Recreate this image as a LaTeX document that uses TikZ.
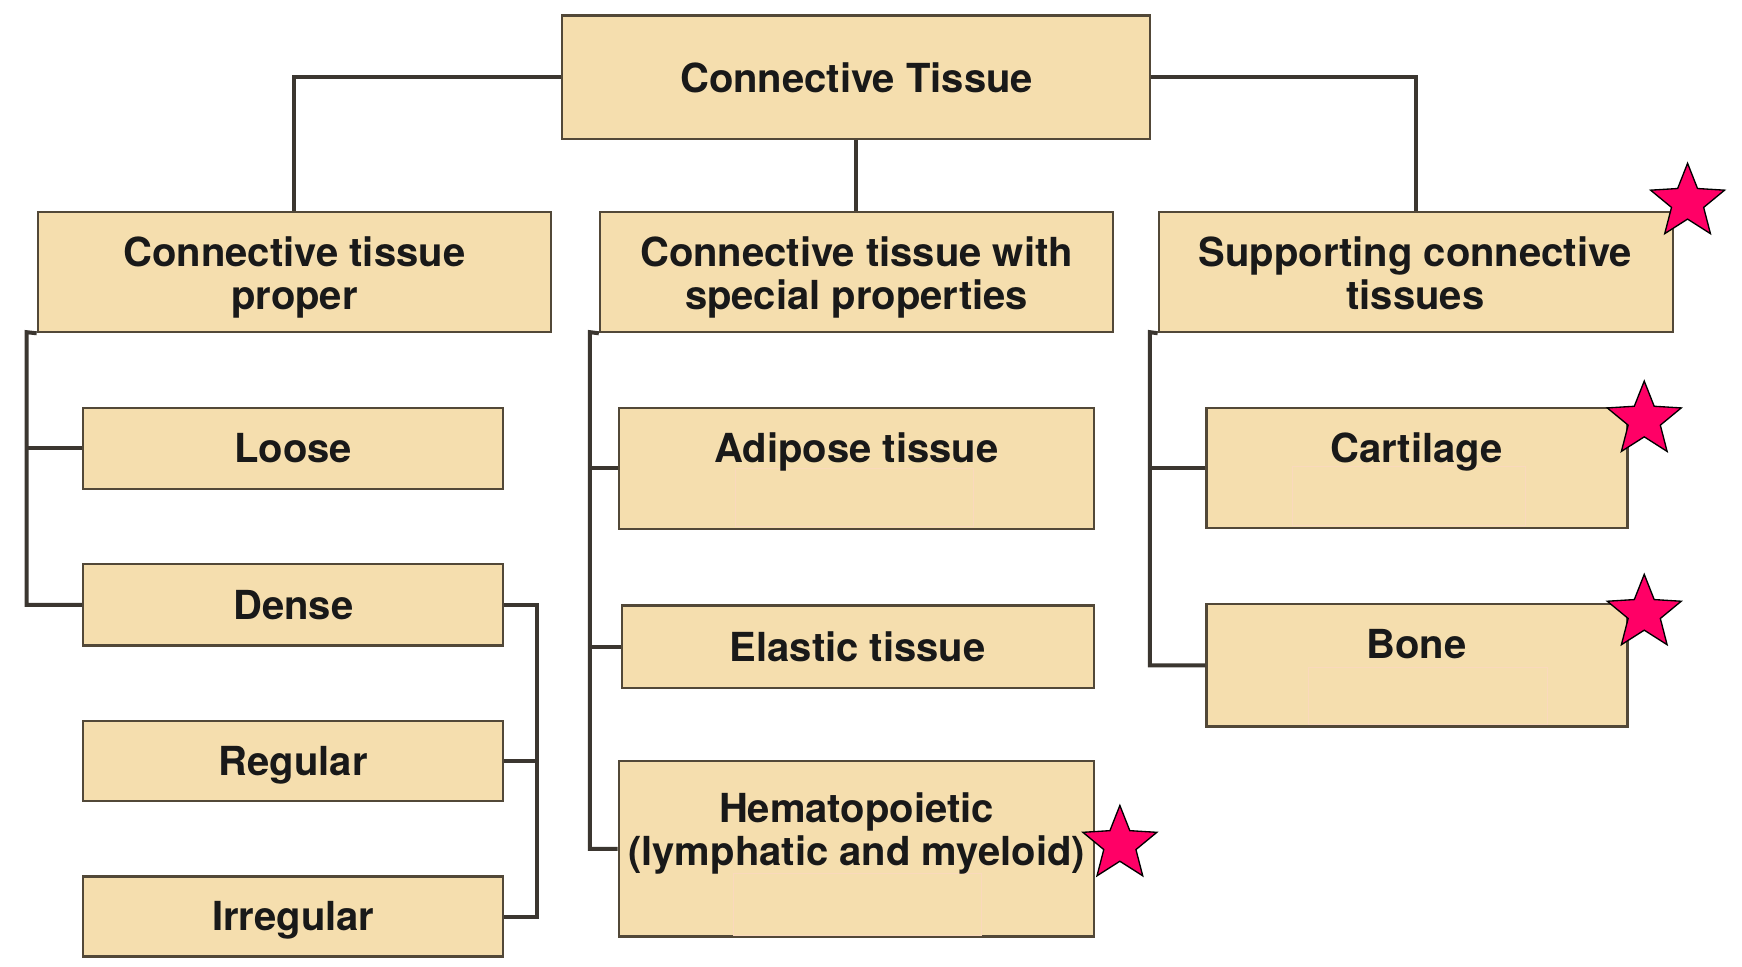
\documentclass[tikz,border=0pt]{standalone}
\usepackage{fontspec}
\setmainfont{TeX Gyre Heros}
\usetikzlibrary{fit,shapes.geometric}
\definecolor{boxfill}{HTML}{F5DEAE}
\definecolor{boxline}{HTML}{524838}
\definecolor{conline}{HTML}{3B3630}
\definecolor{starfill}{HTML}{FF0066}
\definecolor{ghost}{HTML}{FAD9BC}
\tikzset{
  box/.style={draw=boxline, line width=1pt, fill=boxfill, inner sep=0pt},
  ghostbox/.style={draw=ghost, line width=0.4pt},
  lbl/.style={font=\bfseries\fontsize{18}{19.5}\selectfont, text=black!90, inner sep=0pt, align=center},
  con/.style={draw=conline, line width=1.8pt},
  mark star/.style={star, star points=5, star point ratio=2.3, fill=starfill, draw=black, line width=0.6pt, inner sep=0pt, minimum size=35pt}
}
\newcommand{\bx}[5]{%
  \path (#2,#3) coordinate (#1-a) (#4,#5) coordinate (#1-b);
  \node[box, fit=(#1-a)(#1-b)] (#1) {};}
\begin{document}
\begin{tikzpicture}[x=0.5pt, y=-0.5pt]
\useasboundingbox (0,0) rectangle (1568,870);
% boxes
\bx{top}{506}{14}{1035}{125}
\bx{L}{34}{191}{496}{299}
\bx{M}{540}{191}{1002}{299}
\bx{R}{1043}{191}{1506}{299}
\bx{loose}{75}{367}{453}{440}
\bx{dense}{75}{508}{453}{581}
\bx{regular}{75}{649}{453}{721}
\bx{irregular}{75}{789}{453}{861}
\bx{adipose}{557}{367}{985}{476}
\bx{elastic}{560}{545}{985}{619}
\bx{hemato}{557}{685}{985}{843}
\bx{cartilage}{1086}{367}{1465}{475}
\bx{bone}{1086}{544}{1465}{654}
% faint inner frames
\draw[ghostbox] (662,422) rectangle (876,474);
\draw[ghostbox] (660,786) rectangle (883,842);
\draw[ghostbox] (1163,420) rectangle (1373,473);
\draw[ghostbox] (1178,601) rectangle (1393,652);
% labels
\node[lbl, anchor=base] (t-top) at (771,83) {Connective Tissue};
\node[lbl] (t-L) at (265,250) {Connective tissue\\proper};
\node[lbl] (t-M) at (771,250) {Connective tissue with\\special properties};
\node[lbl] (t-R) at (1274,246) {Supporting connective\\tissues};
\node[lbl, anchor=base] (t-loose) at (264,416) {Loose};
\node[lbl, anchor=base] (t-dense) at (264,558) {Dense};
\node[lbl, anchor=base] (t-regular) at (264,698) {Regular};
\node[lbl, anchor=base] (t-irregular) at (264,838) {Irregular};
\node[lbl, anchor=base] (t-adipose) at (771,416) {Adipose tissue};
\node[lbl, anchor=base] (t-elastic) at (772,595) {Elastic tissue};
\node[lbl] (t-hemato) at (771,750) {Hematopoietic\\(lymphatic and myeloid)};
\node[lbl, anchor=base] (t-cartilage) at (1275,416) {Cartilage};
\node[lbl, anchor=base] (t-bone) at (1275,593) {Bone};
% connector junction coordinates
\coordinate (lv) at (24,299);
\coordinate (dv) at (483,545);
\coordinate (mv) at (531,299);
\coordinate (rv) at (1035,299);
% connectors
\draw[con] (top.west) -| (L.north);
\draw[con] (top.south) -- (top.south |- M.north);
\draw[con] (top.east) -| (R.north);
\draw[con] (L.south west) -- (lv) |- (dense.west);
\draw[con] (loose.west) -- (loose.west -| lv);
\draw[con] (dense.east) -- (dense.east -| dv) |- (irregular.east);
\draw[con] (regular.east) -- (regular.east -| dv);
\draw[con] (M.south west) -- (mv) |- (hemato.west);
\draw[con] (adipose.west) -- (adipose.west -| mv);
\draw[con] (elastic.west) -- (elastic.west -| mv);
\draw[con] (R.south west) -- (rv) |- (bone.west);
\draw[con] (cartilage.west) -- (cartilage.west -| rv);
% stars
\node[mark star] (s1) at (1519,182) {};
\node[mark star] (s2) at (1480,378) {};
\node[mark star] (s3) at (1480,552) {};
\node[mark star] (s4) at (1008,760) {};
\end{tikzpicture}
\end{document}
